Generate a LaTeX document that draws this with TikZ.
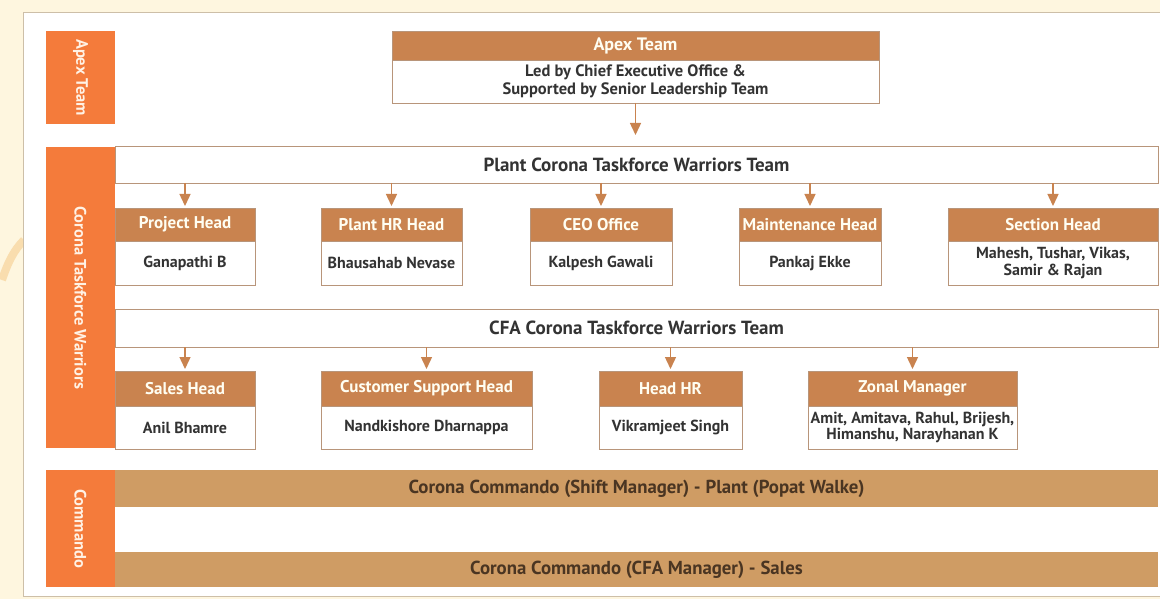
\documentclass[tikz,border=0pt]{standalone}
\usepackage{fontspec}
\setmainfont{PT Sans}
\usetikzlibrary{arrows.meta}
\definecolor{cream}{HTML}{FEF6DF}
\definecolor{lblorange}{HTML}{F47B3B}
\definecolor{hdr}{HTML}{C9834F}
\definecolor{cmd}{HTML}{CF9C64}
\definecolor{bdr}{HTML}{B8957A}
\definecolor{pnl}{HTML}{CDBFA8}
\definecolor{txt}{HTML}{333333}
\definecolor{cmdtxt}{HTML}{4A3522}
\definecolor{wm}{HTML}{F9DDAE}
\tikzset{
  lbl/.style={fill=lblorange, inner sep=0pt, outer sep=0pt, anchor=north west},
  lbltext/.style={rotate=-90, text=white!90!orange, font=\fontsize{16.5}{18}\selectfont\bfseries},
  hbox/.style={fill=hdr, draw=bdr, line width=0.8pt, inner sep=0pt, outer sep=0pt, anchor=north west,
     text=white!95!yellow, font=\fontsize{17}{19}\selectfont\bfseries, align=center},
  bbox/.style={fill=white, draw=bdr, line width=0.8pt, inner sep=0pt, outer sep=0pt, anchor=north west,
     text=txt, font=\fontsize{16}{16.5}\selectfont\bfseries, align=center},
  teambar/.style={fill=white, draw=bdr, line width=0.8pt, inner sep=0pt, outer sep=0pt, anchor=north west,
     text=txt, font=\fontsize{19}{21}\selectfont\bfseries},
  cmdbar/.style={fill=cmd, inner sep=0pt, outer sep=0pt, anchor=north west,
     text=cmdtxt, font=\fontsize{18.8}{21}\selectfont\bfseries},
  arr/.style={draw=hdr, line width=1.4pt, -{Triangle[width=11pt,length=12pt]}}
}
\begin{document}
\begin{tikzpicture}[x=1pt,y=-1pt]
\useasboundingbox (0,0) rectangle (1160,599);
\fill[cream] (0,0) rectangle (1160,599);
% faint watermark
\draw[wm, line width=8pt] (24,240) .. controls (14,250) and (8,262) .. (2,280);
% panel
\filldraw[fill=white, draw=pnl, line width=0.8pt] (23,12) rectangle (1170,596);

% side labels
\node[lbl, minimum width=69pt, minimum height=93pt] (lapex) at (46,31) {};
\node[lbltext] at (lapex.center) {Apex Team};
\node[lbl, minimum width=69pt, minimum height=301pt] (lcorona) at (46,147) {};
\node[lbltext] at (lcorona.center) {Corona Taskforce Warriors};
\node[lbl, minimum width=69pt, minimum height=117pt] (lcmd) at (46,470) {};
\node[lbltext] at (lcmd.center) {Commando};

% apex box
\node[hbox, minimum width=487pt, minimum height=29pt, font=\fontsize{18}{20}\selectfont\bfseries] (apexh) at (392,31) {Apex Team};
\node[bbox, minimum width=487pt, minimum height=43pt, font=\fontsize{16.5}{18}\selectfont\bfseries] (apexb) at (392,60) {Led by Chief Executive Office \&\\Supported by Senior Leadership Team};

% plant team bar
\node[teambar, minimum width=1043pt, minimum height=37pt] (plant) at (115,146) {Plant Corona Taskforce Warriors Team};
\draw[arr, shorten >=11pt] (apexb.south) -- (apexb.south |- plant.north);

% plant row
\node[hbox, minimum width=140pt, minimum height=33pt] (p1h) at (115,208) {Project Head};
\node[bbox, minimum width=140pt, minimum height=44pt] (p1b) at (115,241) {Ganapathi B};
\node[hbox, minimum width=141pt, minimum height=33pt] (p2h) at (321,208) {Plant HR Head};
\node[bbox, minimum width=141pt, minimum height=44pt] (p2b) at (321,241) {Bhausahab Nevase};
\node[hbox, minimum width=142pt, minimum height=33pt] (p3h) at (530,208) {CEO Office};
\node[bbox, minimum width=142pt, minimum height=44pt] (p3b) at (530,241) {Kalpesh Gawali};
\node[hbox, minimum width=142pt, minimum height=33pt] (p4h) at (739,208) {Maintenance Head};
\node[bbox, minimum width=142pt, minimum height=44pt] (p4b) at (739,241) {Pankaj Ekke};
\node[hbox, minimum width=210pt, minimum height=33pt] (p5h) at (948,208) {Section Head};
\node[bbox, minimum width=210pt, minimum height=44pt] (p5b) at (948,241) {Mahesh, Tushar, Vikas,\\Samir \& Rajan};
\foreach \n in {p1h,p2h,p3h,p4h,p5h}
  \draw[arr, shorten >=2pt] (plant.south -| \n.north) -- (\n.north);

% CFA team bar
\node[teambar, minimum width=1043pt, minimum height=38pt] (cfa) at (115,309) {CFA Corona Taskforce Warriors Team};

% CFA row
\node[hbox, minimum width=140pt, minimum height=35pt] (c1h) at (115,371) {Sales Head};
\node[bbox, minimum width=140pt, minimum height=43pt] (c1b) at (115,406) {Anil Bhamre};
\node[hbox, minimum width=211pt, minimum height=35pt] (c2h) at (321,371) {Customer Support Head};
\node[bbox, minimum width=211pt, minimum height=43pt] (c2b) at (321,406) {Nandkishore Dharnappa};
\node[hbox, minimum width=143pt, minimum height=35pt] (c3h) at (599,371) {Head HR};
\node[bbox, minimum width=143pt, minimum height=43pt] (c3b) at (599,406) {Vikramjeet Singh};
\node[hbox, minimum width=209pt, minimum height=35pt] (c4h) at (808,371) {Zonal Manager};
\node[bbox, minimum width=209pt, minimum height=43pt] (c4b) at (808,406) {Amit, Amitava, Rahul, Brijesh,\\Himanshu, Narayhanan K};
\foreach \n in {c1h,c2h,c3h,c4h}
  \draw[arr, shorten >=2pt] (cfa.south -| \n.north) -- (\n.north);

% commando bars
\node[cmdbar, minimum width=1043pt, minimum height=37pt] (cmd1) at (115,470) {Corona Commando (Shift Manager) - Plant (Popat Walke)};
\node[cmdbar, minimum width=1043pt, minimum height=35pt] (cmd2) at (115,552) {Corona Commando (CFA Manager) - Sales};
\end{tikzpicture}
\end{document}
